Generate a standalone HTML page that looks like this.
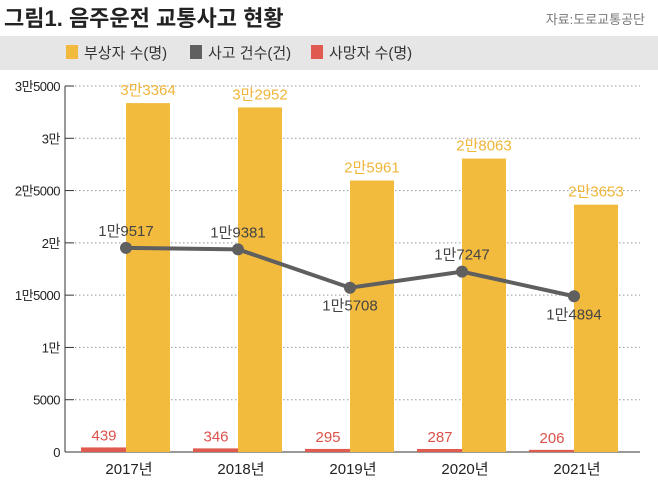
<!DOCTYPE html>
<html><head><meta charset="utf-8"><style>
body{margin:0;width:658px;height:483px;background:#fff;font-family:"Liberation Sans","Noto Sans CJK KR",sans-serif;overflow:hidden}
</style></head><body>
<svg width="658" height="483" style="font-family:'Liberation Sans','Noto Sans CJK KR',sans-serif">
<text x="4" y="26" font-size="22" font-weight="bold" fill="#222">그림1. 음주운전 교통사고 현황</text>
<text x="645" y="24" font-size="13" fill="#777" text-anchor="end">자료:도로교통공단</text>
<rect x="0" y="36" width="658" height="34" fill="#e6e6e6"/>
<g>
<rect x="66" y="45" width="12" height="14" fill="#f2bb3e"/>
<text x="84" y="58" font-size="15" fill="#333">부상자 수(명)</text>
<rect x="190" y="45" width="12" height="14" fill="#606060"/>
<text x="208" y="58" font-size="15" fill="#333">사고 건수(건)</text>
<rect x="311" y="45" width="12" height="14" fill="#e05a4f"/>
<text x="329" y="58" font-size="15" fill="#333">사망자 수(명)</text>
</g>
<g id="plot"></g>
</svg>
<script>
const categories=["2017년","2018년","2019년","2020년","2021년"];
const injured=[33364,32952,25961,28063,23653];
const injuredLabels=["3만3364","3만2952","2만5961","2만8063","2만3653"];
const accidents=[19517,19381,15708,17247,14894];
const accidentLabels=["1만9517","1만9381","1만5708","1만7247","1만4894"];
const deaths=[439,346,295,287,206];
const tickValues=[0,5000,10000,15000,20000,25000,30000,35000];
const tickLabels=["0","5000","1만","1만5000","2만","2만5000","3만","3만5000"];

const NS="http://www.w3.org/2000/svg";
const g=document.getElementById('plot');
const y=v=>452-v*366/35000;
const cx=i=>126+i*112;
function mk(t,a,txt){const e=document.createElementNS(NS,t);for(const k in a)e.setAttribute(k,a[k]);if(txt!=null)e.textContent=txt;g.appendChild(e);return e;}
tickValues.forEach((v,i)=>{
  if(v>0){const l=mk('line',{x1:75,x2:640,y1:y(v),y2:y(v),stroke:'#999','stroke-dasharray':'1.5 2.5','stroke-width':1});
  
  }
  const tk=mk('line',{x1:65,x2:74,y1:y(v),y2:y(v),stroke:'#333'});
  
  
  const t=mk('text',{x:60,y:y(v)+5,'font-size':13,'text-anchor':'end',fill:'#222','letter-spacing':'-0.5'},tickLabels[i]);
  
  
});
const ax=mk('line',{x1:65,x2:65,y1:y(35000),y2:452,stroke:'#333'});


const bx=mk('line',{x1:65,x2:640,y1:452,y2:452,stroke:'#333'});


categories.forEach((c,i)=>{
  const r=mk('rect',{x:cx(i)-45,y:y(deaths[i]),width:45,height:452-y(deaths[i]),fill:'#e05a4f'});
  
  
  const rl=mk('text',{x:cx(i)-22,y:y(deaths[i])-7,'font-size':15,'text-anchor':'middle',fill:'#d9534a'},deaths[i]);
  
  
  const b=mk('rect',{x:cx(i),y:y(injured[i]),width:44,height:452-y(injured[i]),fill:'#f2bb3e'});
  
  
  const bl=mk('text',{x:cx(i)+22,y:y(injured[i])-8,'font-size':15,'text-anchor':'middle',fill:'#f0b63a'},injuredLabels[i]);
  
  
  const xl=mk('text',{x:cx(i)+3,y:474,'font-size':15,'text-anchor':'middle',fill:'#222'},c);
  
  
});
const pl=mk('polyline',{points:accidents.map((v,i)=>cx(i)+','+y(v)).join(' '),fill:'none',stroke:'#5f5f5f','stroke-width':4});


accidents.forEach((v,i)=>{
  const p=mk('circle',{cx:cx(i),cy:y(v),r:6,fill:'#5f5f5f'});
  
  
  const below=(i===2||i===4);
  const t=mk('text',{x:cx(i),y:below?y(v)+23:y(v)-12,'font-size':15,'text-anchor':'middle',fill:'#444'},accidentLabels[i]);
  
  
});
</script>
</body></html>
